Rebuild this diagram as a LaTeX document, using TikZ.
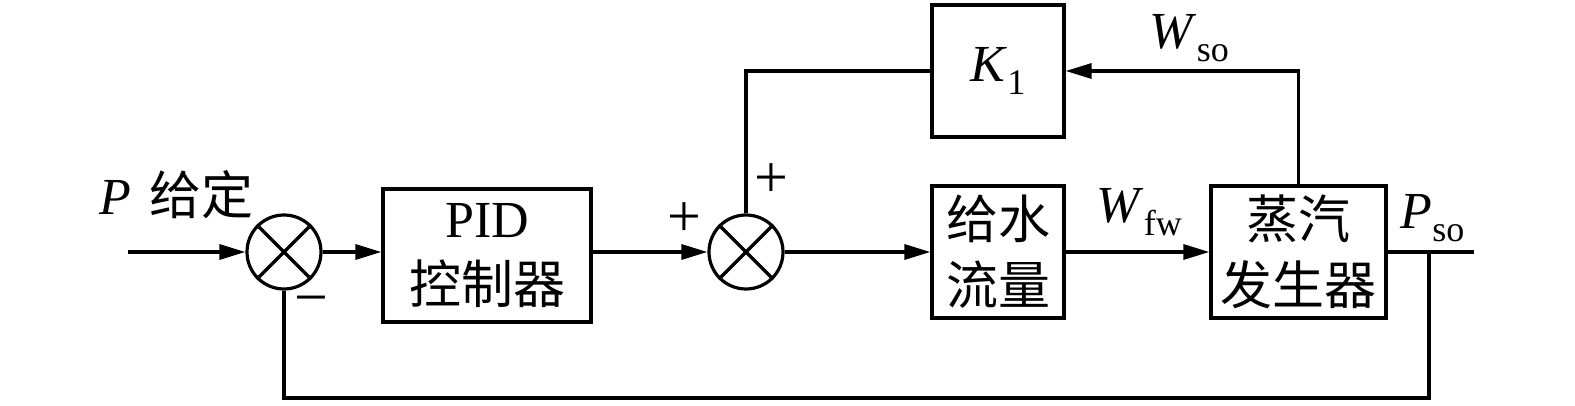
\documentclass[tikz,border=0pt]{standalone}
\usepackage{fontspec}
\setmainfont{Liberation Serif}
\newfontfamily\cjk{Noto Sans CJK SC}
\usetikzlibrary{arrows.meta}
\newcommand{\subtxt}[1]{\raisebox{-6.5pt}{\fontsize{18pt}{18pt}\selectfont #1}}
\begin{document}
\begin{tikzpicture}[x=0.5pt,y=-0.5pt,
  line width=1.6pt,
  every node/.style={font=\fontsize{26pt}{33pt}\selectfont},
  blk/.style={draw,line width=1.6pt,inner sep=0pt,align=center,minimum height=66pt},
  sumj/.style={draw,circle,line width=1.6pt,minimum size=37pt,inner sep=0pt},
  arr/.style={-{Triangle[length=13pt,width=7.5pt]}},
  sign/.style={inner sep=0pt,font=\fontsize{30pt}{30pt}\selectfont}]
\useasboundingbox (0,0) rectangle (1575,406);
% nodes
\node[sumj] (s1) at (284,252) {};
\node[sumj] (s2) at (746,252) {};
\node[blk,minimum width=104pt,minimum height=66.5pt] (pid) at (487,255.5) {PID\\{\cjk 控制器}};
\node[blk,minimum width=66pt] (gs) at (998,252) {{\cjk 给水}\\{\cjk 流量}};
\node[blk,minimum width=87.5pt] (sg) at (1298.5,252) {{\cjk 蒸汽}\\{\cjk 发生器}};
\node[blk,minimum width=66pt] (k1) at (998,71) {\textit{K}\subtxt{1}};
% crosses in summing junctions
\draw (s1.north east) -- (s1.south west) (s1.north west) -- (s1.south east);
\draw (s2.north east) -- (s2.south west) (s2.north west) -- (s2.south east);
% coordinates
\coordinate (in) at (128,252);
\coordinate (out) at (1474,252);
\coordinate (tap) at (1429,252);
\coordinate (fb) at (1429,398);
% connectors
\draw[arr] (in) -- (s1.west);
\draw[arr] (s1.east) -- (s1.east -| pid.west);
\draw[arr] (s2.west -| pid.east) -- (s2.west);
\draw[arr] (s2.east) -- (gs.west);
\draw[arr] (gs.east) -- (sg.west);
\draw (sg.east) -- (out);
\draw (tap) -- (fb) -| (s1.south);
\draw[arr] (sg.north) |- (k1.east);
\draw (k1.west) -| (s2.north);
% labels
\node[anchor=base west,inner sep=0pt] (pg) at (98,215) {\textit{P}\hspace{0.35em}{\cjk 给定}};
\node[anchor=base west,inner sep=0pt] (wfw) at (1095,223) {\textit{W}\subtxt{fw}};
\node[anchor=base west,inner sep=0pt] (wso) at (1148,49) {\textit{W}\subtxt{so}};
\node[anchor=base west,inner sep=0pt] (pso) at (1399,229) {\textit{P}\subtxt{so}};
\node[sign] (p1) at (684,220) {+};
\node[sign] (p2) at (771,181) {+};
\node[sign] (m1) at (311,307) {−};
\end{tikzpicture}
\end{document}
